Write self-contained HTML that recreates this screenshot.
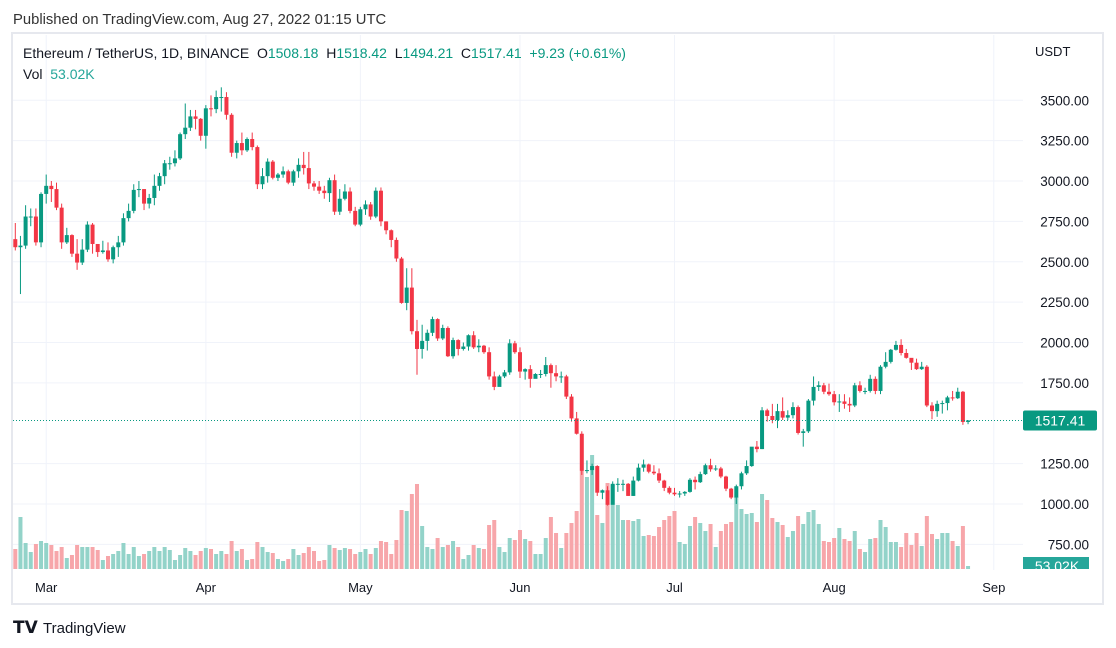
<!DOCTYPE html>
<html><head><meta charset="utf-8">
<style>
body{margin:0;background:#fff;font-family:"Liberation Sans",sans-serif;}
#wrap{position:relative;width:1116px;height:648px;overflow:hidden;background:#fff;}
svg text{font-family:"Liberation Sans",sans-serif;}
</style></head>
<body>
<div id="wrap">
<svg id="chart" width="1116" height="648">
<text x="13" y="24" font-size="14.8" fill="#333">Published on TradingView.com, Aug 27, 2022 01:15 UTC</text>
<rect x="12" y="33" width="1091" height="571" fill="none" stroke="#e6e8ee" stroke-width="2"/>
<g id="grid"></g>
<g id="vol"></g>
<g id="candles"></g>
<g id="yaxis"></g>
<g id="xaxis"></g>
<text x="23" y="58" font-size="14"><tspan fill="#131722">Ethereum / TetherUS, 1D, BINANCE&#160;&#160;O</tspan><tspan fill="#089981">1508.18</tspan><tspan fill="#131722">&#160;&#160;H</tspan><tspan fill="#089981">1518.42</tspan><tspan fill="#131722">&#160;&#160;L</tspan><tspan fill="#089981">1494.21</tspan><tspan fill="#131722">&#160;&#160;C</tspan><tspan fill="#089981">1517.41&#160;&#160;+9.23 (+0.61%)</tspan></text>
<text x="23" y="79" font-size="14"><tspan fill="#131722">Vol&#160;&#160;</tspan><tspan fill="#26a69a">53.02K</tspan></text>
<text x="1035" y="56" font-size="13" fill="#131722">USDT</text>
<text x="13" y="633" font-size="17" font-weight="bold" fill="#131722">𝗧𝗩</text>
<text x="43" y="633" font-size="15" fill="#131722">TradingView</text>
</svg>
</div>
<script>
const closes=[2590,2600,2780,2780,2620,2920,
2970,2950,2835,2620,2665,2550,2495,2575,2730,2610,2560,2570,2515,2590,2620,2770,2815,2945,2950,2860,2895,2970,3030,3110,3110,3140,3290,3330,3400,3385,3280,
3450,3445,3520,3520,3410,3175,3235,3190,3260,3210,2980,3030,3120,3020,3040,3060,2990,3060,3100,3080,2985,2965,2940,2925,3005,2810,2890,2935,2815,2730,
2825,2855,2780,2940,2750,2695,2635,2520,2245,2340,2070,1960,2010,2060,2145,2025,2090,1915,2015,1960,1975,2045,1970,1980,1940,1790,1725,1790,1815,1995,1940,
1820,1835,1775,1805,1805,1860,1810,1790,1790,1665,1530,1435,1205,1210,1235,1070,1085,995,1125,1125,1125,1050,1145,1225,1245,1200,1190,1145,1100,1070,
1060,1065,1075,1150,1135,1185,1240,1215,1220,1170,1095,1040,1110,1190,1235,1355,1340,1580,1545,1520,1575,1535,1550,1600,1440,1450,1640,1725,1735,1695,1680,
1630,1635,1620,1610,1735,1700,1700,1775,1700,1850,1880,1955,1985,1935,1905,1875,1835,1850,1610,1575,1620,1625,1660,1655,1695,1508.18,1517.41];
const firstOpen=2640;
const highs=[2740,2660,2850,2830,2830,2930,
3040,3000,2990,2860,2710,2670,2640,2640,2750,2740,2610,2630,2620,2600,2660,2800,2860,2980,3000,2950,2920,3040,3050,3130,3150,3190,3300,3480,3440,3440,3390,
3470,3530,3560,3580,3550,3420,3250,3300,3270,3300,3220,3080,3140,3130,3050,3090,3070,3070,3140,3180,3180,3000,3000,2970,3020,3040,2950,2980,2960,2840,
2840,2880,2870,2960,2960,2750,2700,2650,2530,2460,2460,2140,2110,2080,2160,2150,2110,2100,2030,2020,2000,2050,2070,2020,1985,1970,1820,1800,1830,2020,2010,
1970,1840,1860,1810,1830,1910,1870,1860,1820,1800,1680,1570,1450,1270,1250,1240,1090,1110,1140,1160,1150,1130,1170,1250,1275,1250,1240,1220,1150,1110,
1100,1080,1080,1160,1170,1200,1250,1280,1240,1230,1175,1100,1120,1200,1270,1350,1390,1600,1590,1620,1620,1660,1580,1630,1610,1465,1650,1790,1760,1750,1745,
1700,1680,1680,1660,1750,1760,1720,1800,1790,1860,1940,1960,2010,2020,1960,1900,1900,1880,1860,1630,1640,1640,1670,1700,1720,1700,1518.42];
const lows=[2570,2300,2580,2720,2600,2590,
2860,2870,2820,2580,2610,2530,2450,2480,2560,2550,2530,2550,2500,2490,2530,2600,2750,2800,2900,2820,2830,2850,2940,2980,3070,3090,3130,3260,3310,3320,3250,
3200,3400,3420,3430,3380,3150,3140,3160,3180,3190,2950,2950,2990,3010,3000,3020,2980,2970,3020,3040,2950,2940,2920,2890,2870,2790,2790,2880,2800,2720,
2720,2790,2760,2770,2720,2670,2590,2500,2240,2200,2050,1800,1900,1950,2040,2010,2015,1910,1900,1920,1950,1950,1960,1940,1930,1770,1705,1745,1780,1800,1930,
1780,1770,1720,1780,1780,1790,1720,1760,1750,1650,1510,1430,1180,1190,1180,1050,1030,990,1000,1075,1080,1050,1050,1140,1200,1190,1180,1130,1080,1060,
1050,1040,1050,1070,1090,1130,1180,1200,1205,1160,1080,1030,1000,1090,1180,1230,1320,1340,1510,1500,1470,1520,1520,1530,1430,1355,1440,1610,1700,1680,1670,
1610,1570,1590,1570,1600,1690,1680,1690,1680,1680,1840,1870,1950,1920,1900,1830,1830,1830,1600,1525,1540,1560,1580,1640,1650,1490,1494.21];
const volumes=[20,52,26,17,25,28,26,24,18,22,11,14,24,22,22,22,19,9,13,15,18,26,15,22,13,15,18,22,18,22,19,9,14,21,18,14,18,21,20,15,18,15,28,18,20,9,10,27,
22,17,16,10,8,10,20,14,16,22,18,8,9,24,21,19,21,20,15,17,20,15,21,28,27,15,29,59,58,75,85,43,22,20,31,22,24,28,22,10,14,24,21,20,44,49,22,17,31,29,39,30,28,15,15,31,52,36,21,36,46,58,
98,92,114,54,
46,86,84,64,49,49,48,50,33,34,33,42,49,53,58,27,25,43,52,46,38,45,22,38,45,47,72,60,55,56,47,75,69,51,47,44,32,38,53,45,57,59,45,28,27,31,41,30,28,38,20,17,30,31,49,42,27,27,22,36,24,36,23,53,35,30,36,36,28,23,43,3];
const priceTicks=[3500,3250,3000,2750,2500,2250,2000,1750,1250,1000,750];
const monthLabels=["Mar","Apr","May","Jun","Jul","Aug","Sep"];
const monthIdx=[6,37,67,98,128,159,190];

const NS="http://www.w3.org/2000/svg";
const X0=15.3, STEP=5.15, PLOT_R=1023, VOL_BASE=569;
function xs(i){return X0+i*STEP;}
function ys(p){return 181+(3000-p)*0.1615;}
function vh(v){return v*1.0;}
function mk(tag,attrs,parent){const e=document.createElementNS(NS,tag);for(const k in attrs)e.setAttribute(k,attrs[k]);parent.appendChild(e);return e;}
const UP="#089981",DN="#f23645",UPV="#93d3c9",DNV="#f7a6aa";
const grid=document.getElementById('grid');
priceTicks.forEach(p=>{const l=mk('line',{x1:13,x2:PLOT_R,y1:ys(p),y2:ys(p),stroke:"#f0f3fa","stroke-width":1},grid);

});
monthIdx.forEach(i=>{const l=mk('line',{x1:xs(i),x2:xs(i),y1:35,y2:570,stroke:"#f0f3fa","stroke-width":1},grid);

});
const vol=document.getElementById('vol'),cg=document.getElementById('candles');
closes.forEach((c,i)=>{
 const o=i===0?firstOpen:closes[i-1];
 const up=c>=o;
 const h=vh(volumes[i]);
 const vb=mk('rect',{x:xs(i)-2,y:VOL_BASE-h,width:4,height:h,fill:up?UPV:DNV},vol);
 
 
 const w=mk('line',{x1:xs(i),x2:xs(i),y1:ys(highs[i]),y2:ys(lows[i]),stroke:up?UP:DN,"stroke-width":1},cg);
 
 
 const top=ys(Math.max(o,c)),bot=ys(Math.min(o,c));
 const b=mk('rect',{x:xs(i)-2,y:top,width:4,height:Math.max(1,bot-top),fill:up?UP:DN},cg);
 
 
});
const last=closes[closes.length-1];
const dl=mk('line',{x1:13,x2:PLOT_R,y1:ys(last),y2:ys(last),stroke:UP,"stroke-width":1,"stroke-dasharray":"1 2"},cg);


const ya=document.getElementById('yaxis');
priceTicks.forEach(p=>{const t=mk('text',{x:1089,y:ys(p)+5,"font-size":13.5,fill:"#131722","text-anchor":"end"},ya);t.textContent=p.toFixed(2);

});
const pb=mk('rect',{x:1023,y:ys(last)-10,width:74,height:20,rx:2,fill:UP},ya);


const pt=mk('text',{x:1060,y:ys(last)+5,"font-size":14,fill:"#fff","text-anchor":"middle"},ya);pt.textContent=last.toFixed(2);


const vb2=mk('rect',{x:1023,y:557,width:66,height:12,fill:"#26a69a"},ya);


const vt=mk('text',{x:1057,y:571,"font-size":14,fill:"#fff","text-anchor":"middle"},ya);vt.textContent="53.02K";


const cover=mk('rect',{x:1000,y:570,width:102,height:10,fill:"#fff"},ya);


const xa=document.getElementById('xaxis');
monthLabels.forEach((m,k)=>{const t=mk('text',{x:xs(monthIdx[k]),y:592,"font-size":13,fill:"#131722","text-anchor":"middle"},xa);t.textContent=m;

});
</script>
</body></html>
